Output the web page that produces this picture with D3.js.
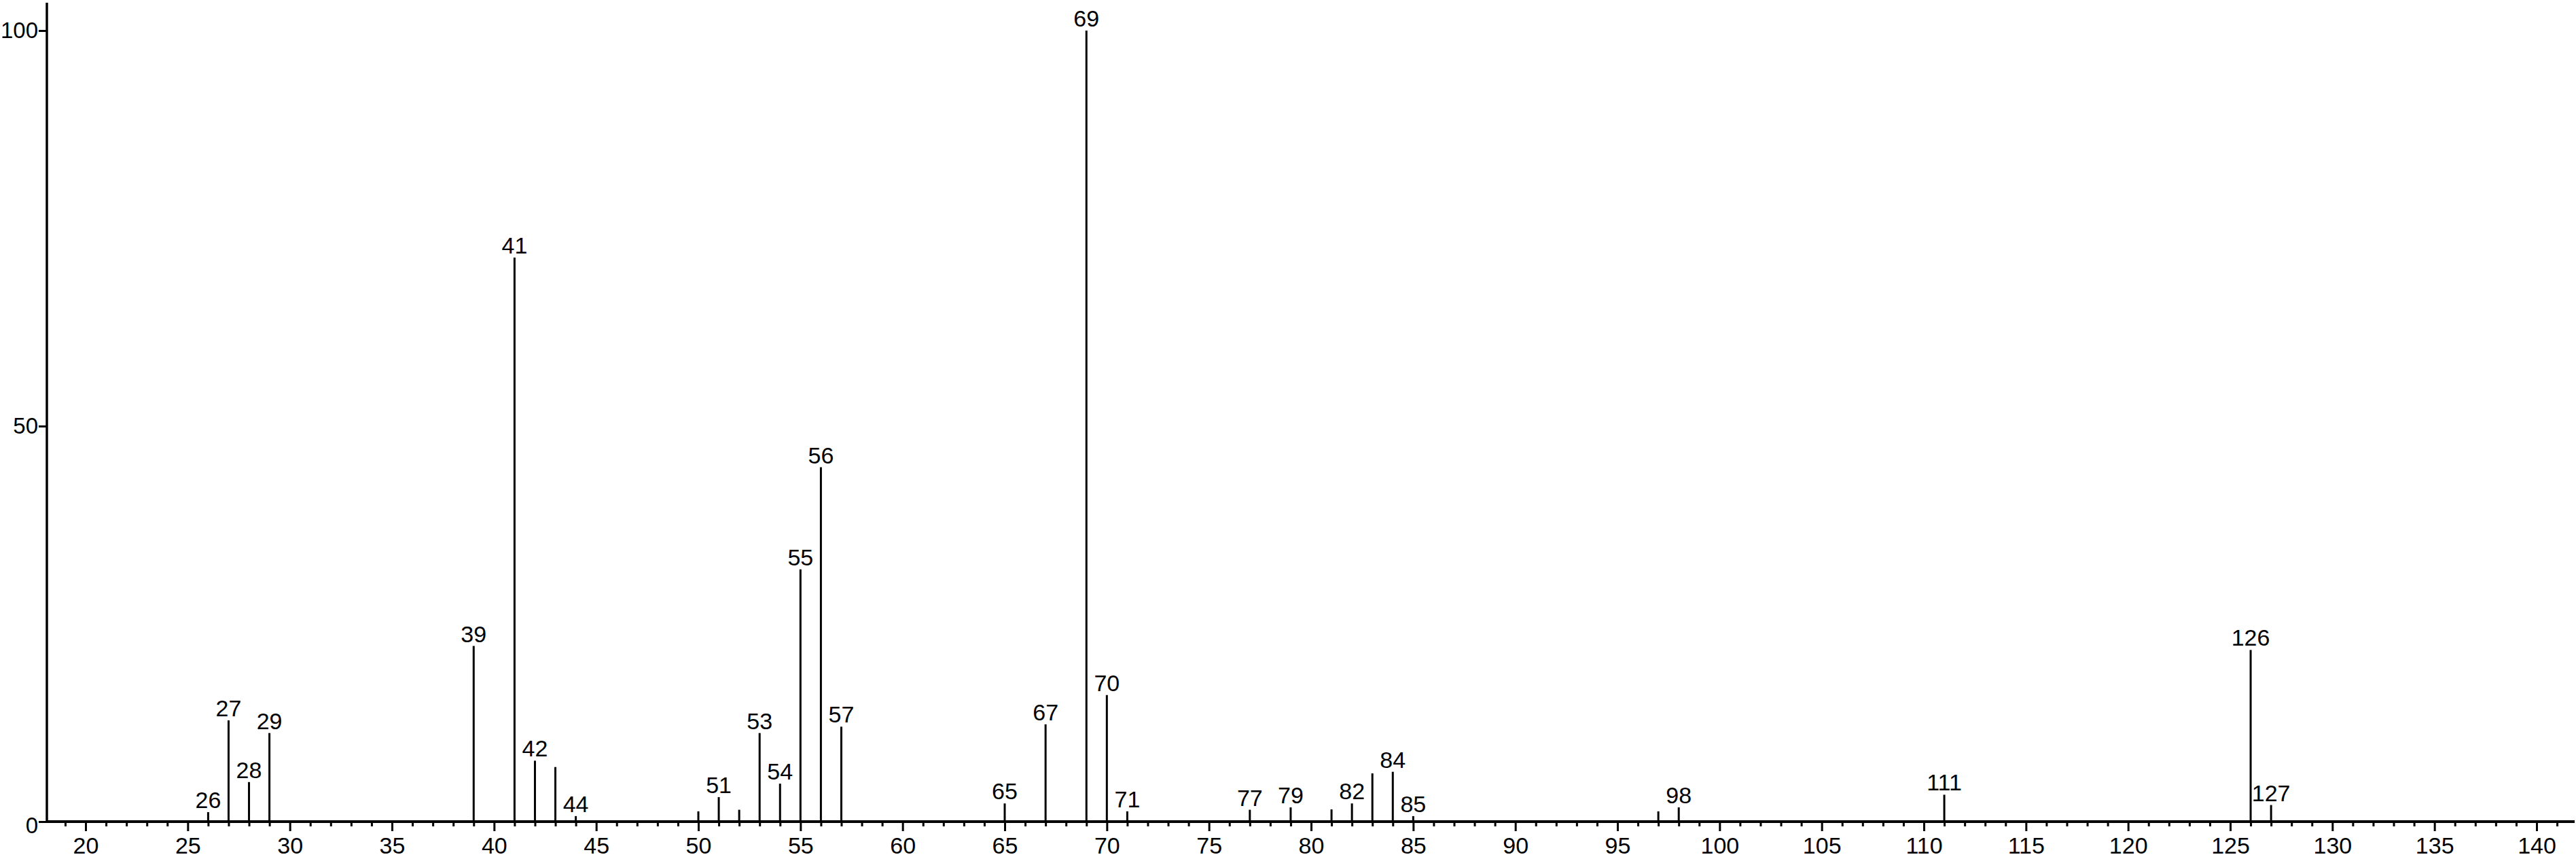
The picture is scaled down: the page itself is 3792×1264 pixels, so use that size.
<!DOCTYPE html>
<html>
<head>
<meta charset="utf-8">
<script src="https://cdn.jsdelivr.net/npm/d3@7"></script>
<style>
  body { margin: 0; background: #fff; }
  text { font-family: "Liberation Sans", Arial, sans-serif; fill: #000; }
</style>
</head>
<body>
<div id="chart"></div>
<script>
// peaks of the spectrum (m/z and relative intensity)
var masses      = [26, 27, 28, 29, 39, 41, 42, 43, 44, 50, 51, 52, 53, 54, 55, 56, 57, 65, 67, 69, 70, 71, 77, 79, 81, 82, 83, 84, 85, 97, 98, 111, 126, 127];
var intensities = [1.2, 12.8, 5.0, 11.2, 22.2, 71.3, 7.7, 6.9, 0.7, 1.3, 3.1, 1.5, 11.2, 4.8, 31.9, 44.8, 12.0, 2.3, 12.3, 100, 16.0, 1.3, 1.5, 1.8, 1.55, 2.3, 6.1, 6.3, 0.7, 1.3, 1.8, 3.4, 21.7, 2.1];
// peaks that get a label on top
var labeled     = [26, 27, 28, 29, 39, 41, 42, 44, 51, 53, 54, 55, 56, 57, 65, 67, 69, 70, 71, 77, 79, 82, 84, 85, 98, 111, 126, 127];

var xTickValues = [20, 25, 30, 35, 40, 45, 50, 55, 60, 65, 70, 75, 80, 85, 90, 95, 100, 105, 110, 115, 120, 125, 130, 135, 140];
var yTickValues = [0, 50, 100];

var width = 3792,
    height = 1264,
    fontSize = "34px";

var svg = d3.select("#chart")
  .append("svg")
    .attr("width", width)
    .attr("height", height);

// scales
var x = d3.scaleLinear().domain([20, 140]).range([126, 3734]);
var y = d3.scaleLinear().domain([0, 100]).range([1209, 45]);

var xStart = x.invert(69),
    xEnd = x.invert(3790);

// minor ticks every unit
var minor = d3.range(Math.ceil(xStart), Math.floor(xEnd) + 1).filter(function (d) { return d % 5 != 0; });

svg.append("g")
    .attr("transform", "translate(0," + y(0) + ")")
    .call(d3.axisBottom(x).tickValues(minor).tickSize(7).tickFormat(""))
    .call(function (g) { g.select(".domain").remove(); })
    .selectAll("line").attr("stroke", "#000").attr("stroke-width", 3);

var xAxis = svg.append("g")
    .attr("transform", "translate(0," + y(0) + ")")
    .call(d3.axisBottom(x).tickValues(xTickValues).tickSize(14).tickFormat(d3.format("d")))
    .call(function (g) { g.select(".domain").remove(); });
xAxis.selectAll("line").attr("stroke", "#000").attr("stroke-width", 3);
xAxis.selectAll("text").style("font-size", fontSize).attr("dy", "0.71em").attr("y", 23);

// axis lines
svg.append("line")
    .attr("x1", 69).attr("x2", 3790)
    .attr("y1", y(0)).attr("y2", y(0))
    .attr("stroke", "#000").attr("stroke-width", 4);

var yAxis = svg.append("g")
    .attr("transform", "translate(69,0)")
    .call(d3.axisLeft(y).tickValues(yTickValues).tickSize(12).tickPadding(1))
    .call(function (g) { g.select(".domain").remove(); });
yAxis.selectAll("line").attr("stroke", "#000").attr("stroke-width", 3);
yAxis.selectAll("text").style("font-size", "33px");
yAxis.selectAll(".tick").filter(function (d) { return d == 0; }).select("text").attr("dy", "0.5em");

svg.append("line")
    .attr("x1", 69).attr("x2", 69)
    .attr("y1", 4).attr("y2", y(0))
    .attr("stroke", "#000").attr("stroke-width", 3.5);

// peaks
var peaks = masses.map(function (m, i) { return { mass: m, value: intensities[i] }; });

svg.selectAll(".peak")
    .data(peaks)
  .enter()
  .append("line")
    .attr("class", "peak")
    .attr("x1", function (d) { return x(d.mass); })
    .attr("x2", function (d) { return x(d.mass); })
    .attr("y1", y(0))
    .attr("y2", function (d) { return y(d.value); })
    .attr("stroke", "#000")
    .attr("stroke-width", 3);

svg.selectAll(".plabel")
    .data(peaks.filter(function (d) { return labeled.indexOf(d.mass) >= 0; }))
  .enter()
  .append("text")
    .attr("class", "plabel")
    .attr("x", function (d) { return x(d.mass); })
    .attr("y", function (d) { return y(d.value) - 6; })
    .attr("text-anchor", "middle")
    .style("font-size", fontSize)
    .text(function (d) { return d.mass; });
</script>
</body>
</html>
